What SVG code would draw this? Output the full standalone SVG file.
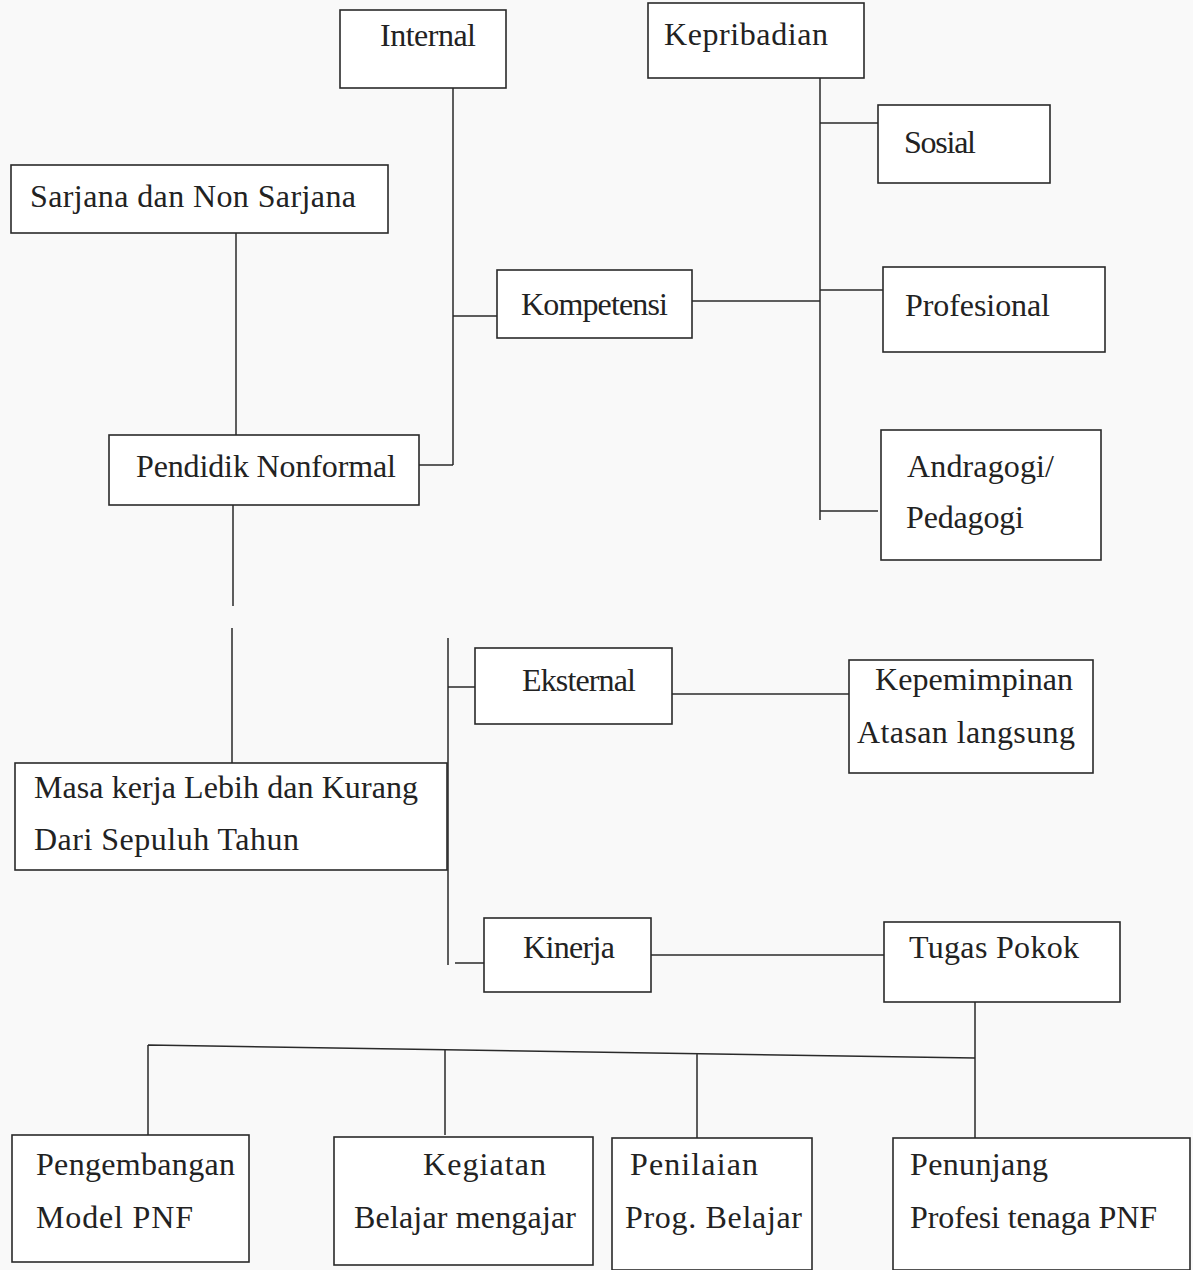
<svg xmlns="http://www.w3.org/2000/svg" width="1193" height="1270" viewBox="0 0 1193 1270">
<style>
.box{fill:#ffffff;stroke:#2a2a2a;stroke-width:1.6}
.t{font-family:"Liberation Serif","Times New Roman",serif;font-size:32px;fill:#222}
.c{fill:none;stroke:#2a2a2a;stroke-width:1.5}
</style>
<rect x="0" y="0" width="1193" height="1270" fill="#f9f9f9"/>
<g id="connectors">
<path class="c" d="M453 88 V465 M419 465 H453 M453 316 H497"/>
<path class="c" d="M692 301 H820"/>
<path class="c" d="M820 78 V520 M820 123 H885 M820 290 H883 M820 511 H878"/>
<path class="c" d="M236 233 V435"/>
<path class="c" d="M233 505 V606 M232 628 V763"/>
<path class="c" d="M448 638 V965 M448 687 H484 M455 963 H497"/>
<path class="c" d="M672 694 H850"/>
<path class="c" d="M651 955 H886"/>
<path class="c" d="M975 1002 V1058 M148 1045 L975 1058 M148 1045 V1135 M445 1050 V1135 M697 1054 V1138 M975 1058 V1138"/>
</g>
<g id="n-internal"><rect class="box" x="340" y="10" width="166" height="78"/><text class="t" x="380" y="46" textLength="96">Internal</text></g>
<g id="n-kepribadian"><rect class="box" x="648" y="3" width="216" height="75"/><text class="t" x="664" y="45" textLength="164">Kepribadian</text></g>
<g id="n-sosial"><rect class="box" x="878" y="105" width="172" height="78"/><text class="t" x="904" y="153" textLength="72">Sosial</text></g>
<g id="n-sarjana"><rect class="box" x="11" y="165" width="377" height="68"/><text class="t" x="30" y="207" textLength="326">Sarjana dan Non Sarjana</text></g>
<g id="n-kompetensi"><rect class="box" x="497" y="270" width="195" height="68"/><text class="t" x="521" y="315" textLength="147">Kompetensi</text></g>
<g id="n-profesional"><rect class="box" x="883" y="267" width="222" height="85"/><text class="t" x="905" y="316" textLength="145">Profesional</text></g>
<g id="n-pendidik"><rect class="box" x="109" y="435" width="310" height="70"/><text class="t" x="136" y="477" textLength="260">Pendidik Nonformal</text></g>
<g id="n-andragogi"><rect class="box" x="881" y="430" width="220" height="130"/><text class="t" x="907" y="477" textLength="147">Andragogi/</text><text class="t" x="906" y="528" textLength="118">Pedagogi</text></g>
<g id="n-eksternal"><rect class="box" x="475" y="648" width="197" height="76"/><text class="t" x="522" y="691" textLength="114">Eksternal</text></g>
<g id="n-kepemimpinan"><rect class="box" x="849" y="660" width="244" height="113"/><text class="t" x="875" y="690" textLength="198">Kepemimpinan</text><text class="t" x="857" y="743" textLength="218">Atasan langsung</text></g>
<g id="n-masakerja"><rect class="box" x="15" y="763" width="432" height="107"/><text class="t" x="34" y="798" textLength="384">Masa kerja Lebih dan Kurang</text><text class="t" x="34" y="850" textLength="265">Dari Sepuluh Tahun</text></g>
<g id="n-kinerja"><rect class="box" x="484" y="918" width="167" height="74"/><text class="t" x="523" y="958" textLength="92">Kinerja</text></g>
<g id="n-tugaspokok"><rect class="box" x="884" y="922" width="236" height="80"/><text class="t" x="909" y="958" textLength="170">Tugas Pokok</text></g>
<g id="n-pengembangan"><rect class="box" x="12" y="1135" width="237" height="127"/><text class="t" x="36" y="1175" textLength="199">Pengembangan</text><text class="t" x="36" y="1228" textLength="157">Model PNF</text></g>
<g id="n-kegiatan"><rect class="box" x="334" y="1137" width="259" height="128"/><text class="t" x="423" y="1175" textLength="123">Kegiatan</text><text class="t" x="354" y="1228" textLength="222">Belajar mengajar</text></g>
<g id="n-penilaian"><rect class="box" x="612" y="1138" width="200" height="132"/><text class="t" x="630" y="1175" textLength="128">Penilaian</text><text class="t" x="625" y="1228" textLength="177">Prog. Belajar</text></g>
<g id="n-penunjang"><rect class="box" x="893" y="1138" width="297" height="132"/><text class="t" x="910" y="1175" textLength="138">Penunjang</text><text class="t" x="910" y="1228" textLength="247">Profesi tenaga PNF</text></g>
</svg>
